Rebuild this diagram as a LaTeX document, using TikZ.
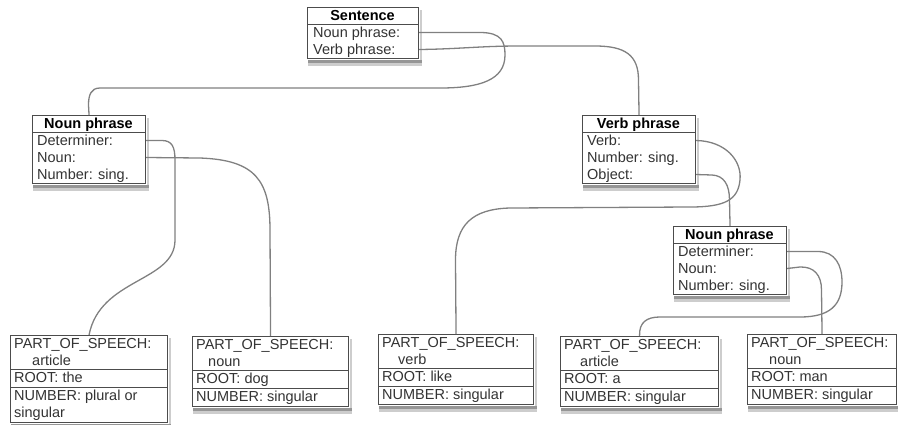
\documentclass[tikz,border=0pt]{standalone}
\usepackage{fontspec}
\setmainfont{Liberation Sans}
\definecolor{boxline}{gray}{0.3}
\definecolor{linkline}{gray}{0.5}
\definecolor{txt}{gray}{0.2}
\definecolor{shadowcol}{RGB}{150,150,150}
\definecolor{shadowlite}{RGB}{205,205,205}
\begin{document}
\begin{tikzpicture}[x=1pt,y=-1pt,
  box/.style={draw=boxline, line width=1.1pt, fill=white, anchor=north west, inner sep=0pt},
  shadowline/.style={draw=shadowcol, line width=3pt},
  shadowsoftline/.style={draw=shadowlite, line width=2.5pt},
  shadowsideline/.style={draw=shadowlite, line width=2pt},
  divline/.style={draw=boxline, line width=0.9pt},
  rowtxt/.style={anchor=west, inner sep=0pt, text height=9pt, text depth=0pt, text=txt,
    font=\fontsize{14.5}{17}\selectfont},
  ttl/.style={anchor=center, inner sep=0pt, text height=9pt, text depth=0pt, text=black,
    font=\fontsize{14.5}{17}\selectfont\bfseries},
  link/.style={draw=linkline, line width=1.3pt}]
\useasboundingbox (0,0) rectangle (898,424);

% ---------- Sentence ----------
\node[box, minimum width=111pt, minimum height=51pt] (sent) at (307,7) {};
\draw[divline] (sent.west |- 0,24) -- (sent.east |- 0,24);
\node[ttl] (sT) at (362.5,15.5) {Sentence};
\node[rowtxt] (sNP) at (313,32.5) {Noun phrase:};
\node[rowtxt] (sVP) at (313,49.5) {Verb phrase:};

% ---------- Noun phrase (left) ----------
\node[box, minimum width=113pt, minimum height=68pt] (npL) at (32,115) {};
\draw[divline] (npL.west |- 0,132) -- (npL.east |- 0,132);
\node[ttl] (nT) at (88.5,123.5) {Noun phrase};
\node[rowtxt] (nDet) at (37,140.5) {Determiner:};
\node[rowtxt] (nNoun) at (37,157.5) {Noun:};
\node[rowtxt] (nNum) at (37,174.5) {Number: sing.};

% ---------- Verb phrase ----------
\node[box, minimum width=113pt, minimum height=68pt] (vp) at (582,115) {};
\draw[divline] (vp.west |- 0,132) -- (vp.east |- 0,132);
\node[ttl] (vT) at (638.5,123.5) {Verb phrase};
\node[rowtxt] (vVerb) at (587,140.5) {Verb:};
\node[rowtxt] (vNum) at (587,157.5) {Number: sing.};
\node[rowtxt] (vObj) at (587,174.5) {Object:};

% ---------- Noun phrase (right) ----------
\node[box, minimum width=113pt, minimum height=68pt] (npR) at (673,226) {};
\draw[divline] (npR.west |- 0,243) -- (npR.east |- 0,243);
\node[ttl] (rT) at (729.5,234.5) {Noun phrase};
\node[rowtxt] (rDet) at (678,251.5) {Determiner:};
\node[rowtxt] (rNoun) at (678,268.5) {Noun:};
\node[rowtxt] (rNum) at (678,285.5) {Number: sing.};

% ---------- Feature boxes ----------
% b1
\node[box, minimum width=157pt, minimum height=87pt] (b1) at (10,335) {};
\draw[divline] (b1.west |- 0,369) -- (b1.east |- 0,369);
\draw[divline] (b1.west |- 0,387) -- (b1.east |- 0,387);
\node[rowtxt] (b1a) at (14,343.5) {PART\_OF\_SPEECH:};
\node[rowtxt] (b1b) at (32,360.5) {article};
\node[rowtxt] (b1c) at (14,378) {ROOT: the};
\node[rowtxt] (b1d) at (14,396) {NUMBER: plural or};
\node[rowtxt] (b1e) at (14,413) {singular};
% b2
\node[box, minimum width=156pt, minimum height=70pt] (b2) at (192,336) {};
\draw[divline] (b2.west |- 0,370) -- (b2.east |- 0,370);
\draw[divline] (b2.west |- 0,388) -- (b2.east |- 0,388);
\node[rowtxt] (b2a) at (196,344.5) {PART\_OF\_SPEECH:};
\node[rowtxt] (b2b) at (208,361.5) {noun};
\node[rowtxt] (b2c) at (196,379) {ROOT: dog};
\node[rowtxt] (b2d) at (196,397) {NUMBER: singular};
% b3
\node[box, minimum width=155pt, minimum height=70pt] (b3) at (378,334) {};
\draw[divline] (b3.west |- 0,368) -- (b3.east |- 0,368);
\draw[divline] (b3.west |- 0,386) -- (b3.east |- 0,386);
\node[rowtxt] (b3a) at (382,342.5) {PART\_OF\_SPEECH:};
\node[rowtxt] (b3b) at (398,359.5) {verb};
\node[rowtxt] (b3c) at (382,377) {ROOT: like};
\node[rowtxt] (b3d) at (382,395) {NUMBER: singular};
% b4
\node[box, minimum width=158pt, minimum height=70pt] (b4) at (560,336) {};
\draw[divline] (b4.west |- 0,370) -- (b4.east |- 0,370);
\draw[divline] (b4.west |- 0,388) -- (b4.east |- 0,388);
\node[rowtxt] (b4a) at (564,344.5) {PART\_OF\_SPEECH:};
\node[rowtxt] (b4b) at (580,361.5) {article};
\node[rowtxt] (b4c) at (564,379) {ROOT: a};
\node[rowtxt] (b4d) at (564,397) {NUMBER: singular};
% b5
\node[box, minimum width=149pt, minimum height=70pt] (b5) at (747,334) {};
\draw[divline] (b5.west |- 0,368) -- (b5.east |- 0,368);
\draw[divline] (b5.west |- 0,386) -- (b5.east |- 0,386);
\node[rowtxt] (b5a) at (751,342.5) {PART\_OF\_SPEECH:};
\node[rowtxt] (b5b) at (769,359.5) {noun};
\node[rowtxt] (b5c) at (751,377) {ROOT: man};
\node[rowtxt] (b5d) at (751,395) {NUMBER: singular};

% ---------- Shadows (strips just outside each box) ----------
\foreach \bx in {sent,npL,vp,npR,b1,b2,b3,b4,b5}{
  \draw[shadowsoftline] ([xshift=1pt,yshift=-5.5pt]\bx.south west) -- ([xshift=3pt,yshift=-5.5pt]\bx.south east);
  \draw[shadowline] ([xshift=1pt,yshift=-2.3pt]\bx.south west) -- ([xshift=2.5pt,yshift=-2.3pt]\bx.south east);
  \draw[shadowsideline] ([xshift=1.8pt,yshift=-3pt]\bx.north east) -- ([xshift=1.8pt,yshift=-1pt]\bx.south east);
}

% ---------- Connectors ----------
\draw[link] (sent.east |- sNP.west) -- (480,32.5)
  .. controls (502,32.5) and (505,42) .. (505,55)
  .. controls (505,80) and (480,88) .. (440,88) -- (100,88)
  .. controls (91,88) and (88.5,95) .. (88.5,105) -- (npL.north);
\draw[link] (sent.east |- sVP.west) .. controls (460,49) and (480,46) .. (520,46) -- (595,46)
  .. controls (625,46) and (638.5,55) .. (638.5,80) -- (vp.north);
\draw[link] (npL.east |- nDet.west) -- (162,140.5)
  .. controls (172,140.5) and (175,147) .. (175,160) -- (175,240)
  .. controls (175,282) and (100,278) .. (b1.north);
\draw[link] (npL.east |- nNoun.west) -- (200,158)
  .. controls (255,160) and (270,180) .. (270,230) -- (b2.north);
\draw[link] (vp.east |- vVerb.west) .. controls (725,141) and (742,160) .. (740,180)
  .. controls (738,200) and (725,207) .. (690,207) -- (510,208)
  .. controls (472,209) and (455.5,225) .. (455.5,260) -- (b3.north);
\draw[link] (vp.east |- vObj.west) -- (712,175)
  .. controls (724,175.5) and (729.5,185) .. (729.5,200) -- (npR.north);
\draw[link] (npR.east |- rDet.west) -- (818,251.5)
  .. controls (835,251.5) and (842,265) .. (842,282)
  .. controls (842,305) and (830,317) .. (800,317) -- (660,317)
  .. controls (647,317) and (639,322) .. (b4.north);
\draw[link] (npR.east |- rNoun.west) -- (800,267)
  .. controls (814,266.5) and (821.5,275) .. (821.5,290) -- (b5.north);
\end{tikzpicture}
\end{document}
